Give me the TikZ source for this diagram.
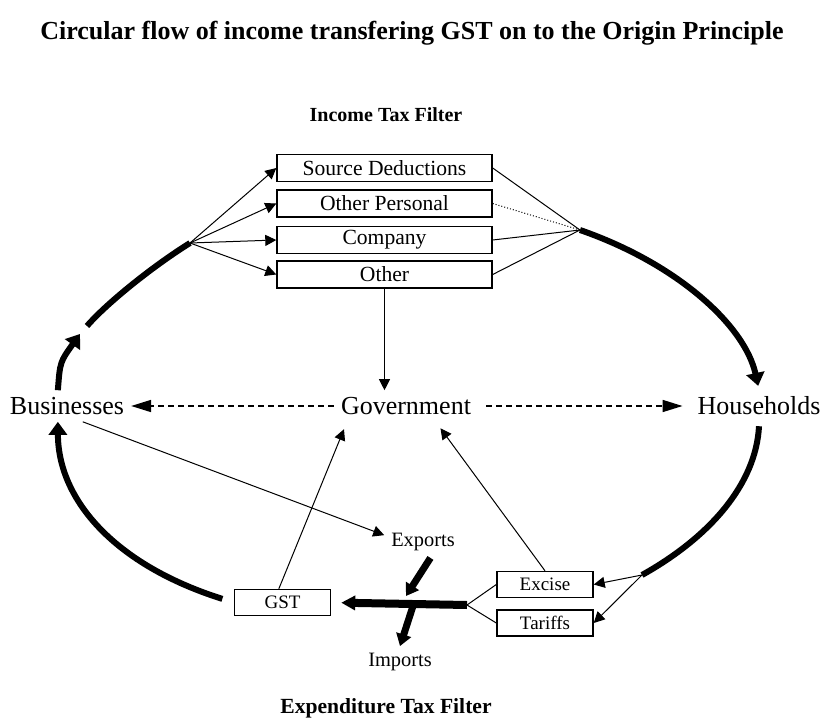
\documentclass[tikz,border=0pt]{standalone}
\usepackage{fontspec}
\setmainfont{Liberation Serif}
\usetikzlibrary{arrows.meta}

\begin{document}
\begin{tikzpicture}[x=0.5pt,y=-0.5pt,
    taxbox/.style={draw, line width=0.7pt, minimum width=107.5pt, minimum height=13.5pt, inner sep=0pt, font=\fontsize{10.8}{12}\selectfont},
    smallbox/.style={draw, line width=0.7pt, minimum width=48pt, minimum height=13pt, inner sep=0pt, font=\fontsize{9.5}{11}\selectfont},
    sector/.style={font=\fontsize{13}{15}\selectfont},
    trade/.style={font=\fontsize{10.2}{12}\selectfont},
    heading/.style={font=\bfseries\fontsize{10.8}{13}\selectfont},
    link/.style={line width=0.5pt, -{Triangle[length=5.5pt,width=5.5pt]}},
    plainlink/.style={line width=0.5pt},
    flow/.style={line width=3pt},
    flowarrow/.style={line width=3pt, -{Triangle[length=6.5pt,width=9pt]}},
    money/.style={line width=0.8pt, dash pattern=on 3pt off 2pt, -{Triangle[length=10pt,width=6pt]}},
    crossing/.style={line width=3.5pt, -{Triangle[length=6pt,width=7.5pt]}}]
    \useasboundingbox (0,0) rectangle (824,722);

    \node[font=\bfseries\fontsize{13}{15}\selectfont] (title) at (412,33) {Circular flow of income transfering GST on to the Origin Principle};
    \node[heading, font=\bfseries\fontsize{10}{12}\selectfont] (itf) at (386,115) {Income Tax Filter};
    \node[heading] (eft) at (386,708) {Expenditure Tax Filter};

    % income tax boxes
    \node[taxbox] (sd) at (384.5,168) {Source Deductions};
    \node[taxbox] (op) at (384.5,203.5) {Other Personal};
    \node[taxbox] (co) at (384.5,240) {Company};
    \node[taxbox] (ot) at (384.5,274.5) {Other};
    \coordinate (fanL) at (190,243);
    \coordinate (fanR) at (580,230);

    \node[sector] (gov) at (406,406) {Government};
    \node[sector] (bus) at (67,406) {Businesses};
    \node[sector] (hh) at (759,406) {Households};

    % expenditure tax boxes
    \node[smallbox] (gst) at (282.5,602.5) {GST};
    \node[smallbox] (exc) at (545,584.5) {Excise};
    \node[smallbox] (tar) at (545,623) {Tariffs};
    \node[trade] (exp) at (423,542) {Exports};
    \node[trade] (imp) at (400,662) {Imports};
    \coordinate (fanX) at (642,575);
    \coordinate (barR) at (467,605);
    \coordinate (cutU) at (406,596);
    \coordinate (cutD) at (413,606);
    \coordinate (brkA) at (80,334);
    \coordinate (brkB) at (87,326);

    % the circular flow
    \draw[flowarrow] (bus.120) .. controls (60,362) .. (brkA);
    \draw[flow] (brkB) .. controls (105,305) and (150,268) .. (fanL);
    \draw[flowarrow, shorten >=2pt] (fanR) .. controls (678,264) and (745,326) .. (hh.north);
    \draw[flow] ([yshift=-2pt]hh.south) .. controls (756,484) and (710,537) .. (fanX);
    \draw[flowarrow, shorten <=6pt] (gst.west) .. controls (115,565) and (58,500) .. (bus.-120);

    \foreach \b in {sd,op,co,ot}
      \draw[link] (fanL) -- (\b.west);
    \draw[plainlink] (sd.east) -- (fanR);
    \draw[plainlink, densely dotted] (op.east) -- (fanR);
    \draw[plainlink] (co.east) -- (fanR);
    \draw[plainlink] (ot.east) -- (fanR);
    \draw[link] (ot.south) -- (ot.south |- gov.north);

    \draw[money] (gov.west) -- (bus.east);
    \draw[money, shorten <=4pt, shorten >=4pt] (gov.east) -- (hh.west);

    \draw[link, shorten >=4pt] (gst.105) -- (gov.-165);
    \draw[link, shorten >=4pt] (exc.north) -- (gov.-28);
    \draw[link] (bus.-45) -- (exp.170);

    \draw[link] (fanX) -- (exc.east);
    \draw[link] (fanX) -- (tar.east);
    \draw[plainlink] (exc.west) -- (barR);
    \draw[plainlink] (tar.west) -- (barR);
    \draw[line width=4pt, -{Triangle[length=7pt,width=7pt]}, shorten >=5pt] (barR) -- (gst.east);

    \draw[crossing] (exp.-65) -- (cutU);
    \draw[crossing] (cutD) -- (imp.north);
\end{tikzpicture}
\end{document}
